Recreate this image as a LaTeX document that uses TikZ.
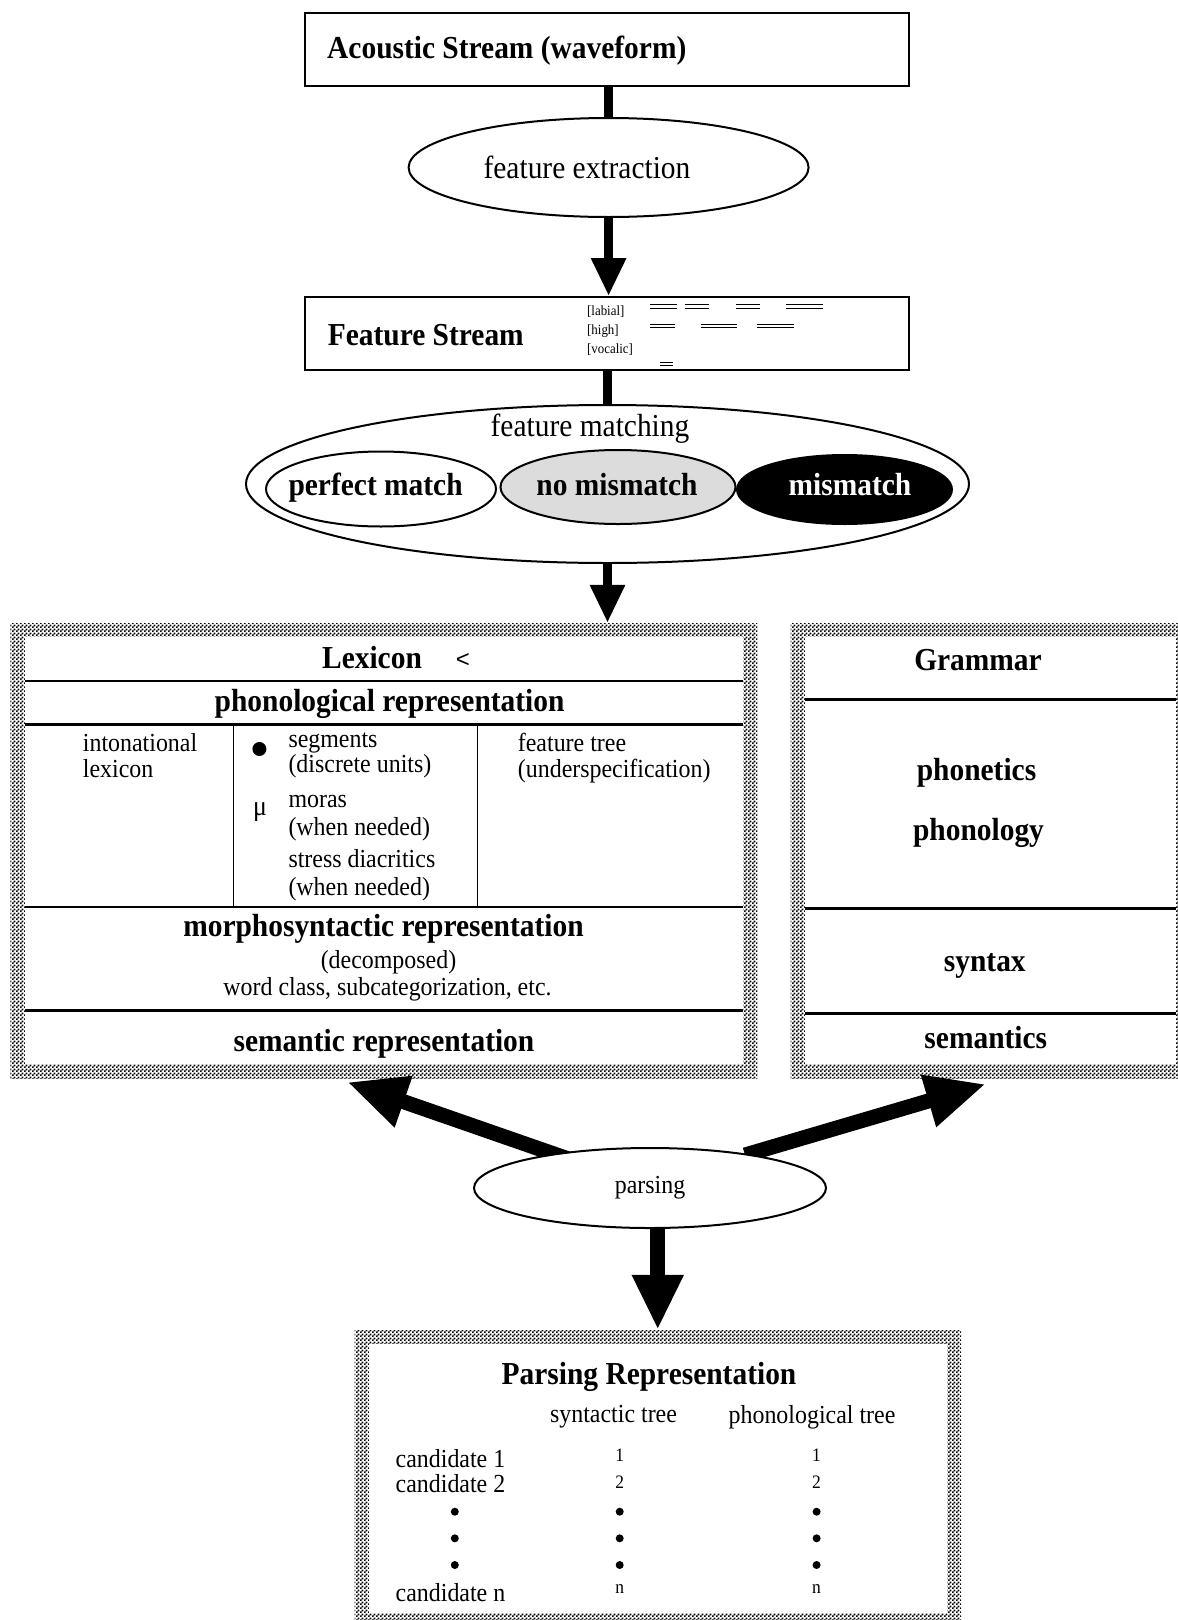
\documentclass[tikz,border=0pt]{standalone}
\usepackage{fontspec}
\setmainfont{Liberation Serif}[FakeStretch=0.92]
\newfontfamily\ltfont{Liberation Sans}
\usetikzlibrary{shapes.geometric,arrows.meta,patterns}
\pgfdeclarepatternformonly{fchk}{\pgfpointorigin}{\pgfqpoint{4pt}{4pt}}{\pgfqpoint{4pt}{4pt}}{%
 \pgfpathrectangle{\pgfpointorigin}{\pgfqpoint{2.1pt}{2.1pt}}%
 \pgfpathrectangle{\pgfqpoint{2pt}{2pt}}{\pgfqpoint{2.1pt}{2.1pt}}%
 \pgfusepath{fill}}
\newcommand\fsBig{\fontsize{32}{36}\selectfont}
\newcommand\fsMed{\fontsize{26}{28}\selectfont}
\newcommand\fsNum{\fontsize{19}{22}\selectfont}
\newcommand\fsTiny{\fontsize{14}{16}\selectfont}
\newcommand\dbl[3]{\draw[line width=1.1pt] (#1,#3-1.8) -- (#2,#3-1.8) (#1,#3+1.8) -- (#2,#3+1.8);}
\tikzset{
 boxr/.style={draw, line width=2pt, inner sep=0pt, fill=white},
 ell/.style={ellipse, draw, line width=2pt, inner sep=0pt, fill=white},
 bf/.style={inner sep=0pt, font=\fsBig\bfseries},
 rg/.style={inner sep=0pt, font=\fsBig},
 md/.style={inner sep=0pt, font=\fsMed},
 nm/.style={inner sep=0pt, font=\fsNum},
 tn/.style={inner sep=0pt, font=\fsTiny, anchor=west},
 hatchframe/.style={pattern=fchk, inner sep=0pt, draw=none},
 inner/.style={fill=white, inner sep=0pt, draw=none},
 rowline/.style={line width=2.5pt},
 colline/.style={line width=1.6pt},
 stemA/.style={line width=9pt},
 arrA/.style={line width=9pt, -{Triangle[length=38pt,width=33pt]}},
 arrB/.style={line width=15pt, -{Triangle[length=55pt,width=48pt]}},
 arrD/.style={line width=15pt, -{Triangle[length=60pt,width=50pt]}},
 dotb/.style={circle, fill=black, inner sep=0pt, minimum size=8pt},
}
\begin{document}
\begin{tikzpicture}[x=1pt,y=-1pt]
\useasboundingbox[fill=white] (0,0) rectangle (1178,1620);

% ---- top part
\node[boxr, minimum width=604, minimum height=73] (acoustic) at (607,49) {};
\node[bf, anchor=west] (acoustictxt) at (327,51) {Acoustic Stream (waveform)};

\node[ell, minimum width=400, minimum height=99] (fext) at (608.6,167.5) {};
\node[rg] (fexttxt) at (587,167) {feature extraction};

\node[boxr, minimum width=604, minimum height=73] (fstream) at (607,333.5) {};
\node[bf, anchor=west] (fstreamtxt) at (327.6,335) {Feature Stream};
\node[tn] (lab) at (587,312) {[labial]};
\node[tn] (high) at (587,331) {[high]};
\node[tn] (voc) at (587,350) {[vocalic]};
\dbl{650}{677}{306.5}
\dbl{685}{709}{306.5}
\dbl{736}{759.5}{306.5}
\dbl{786}{822.5}{306.5}
\dbl{650}{675}{326}
\dbl{700.6}{736.8}{326}
\dbl{757}{793.6}{326}
\dbl{660}{672.7}{364}

\node[ell, minimum width=723, minimum height=158] (fmatch) at (607.5,484) {};
\node[rg] (fmatchtxt) at (590,429) {feature matching};
\node[ell, minimum width=230, minimum height=75] (pm) at (381,489) {};
\node[bf] (pmtxt) at (375.6,488) {perfect match};
\node[ell, fill={rgb,255:red,220;green,220;blue,220}, minimum width=235, minimum height=74] (nmm) at (618,487) {};
\node[bf] (nmmtxt) at (617,485) {no mismatch};
\node[ell, fill=black, minimum width=215, minimum height=69] (mm) at (844.5,489.5) {};
\node[bf, text=white] (mmtxt) at (850,485) {mismatch};

\draw[stemA] (fext.north) -- (fext.north |- acoustic.south);
\draw[arrA] (fext.south) -- (fext.south |- fstream.north);
\draw[stemA] (fmatch.north |- fstream.south) -- (fmatch.north);

% ---- lexicon
\node[hatchframe, minimum width=747, minimum height=455] (lexframe) at (383.9,850.5) {};
\node[inner, minimum width=717.5, minimum height=427] (lex) at (383.75,850.5) {};
\draw[arrA] (fmatch.south) -- (fmatch.south |- lexframe.north);

\draw[rowline] (25,681) -- (742.5,681);
\draw[rowline] (25,724.5) -- (742.5,724.5);
\draw[rowline] (25,907) -- (742.5,907);
\draw[rowline] (25,1010.6) -- (742.5,1010.6);
\draw[colline] (233.5,724.5) -- (233.5,907);
\draw[colline] (477.4,724.5) -- (477.4,907);

\node[bf] (lextitle) at (372,658) {Lexicon};
\node[inner sep=0pt, font=\ltfont\fontsize{24}{26}\selectfont] (lt) at (463,660) {<};
\node[bf] (phonrep) at (389.6,704) {phonological representation};
\node[md, anchor=base west] (c1a) at (82.7,751) {intonational};
\node[md, anchor=base west] (c1b) at (82.7,777) {lexicon};
\node[dotb, minimum size=14pt] (segdot) at (259.4,749) {};
\node[md, anchor=base west] (c2a) at (288.3,747) {segments};
\node[md, anchor=base west] (c2b) at (288.3,772) {(discrete units)};
\node[inner sep=0pt, font=\fontsize{28}{30}\selectfont] (mu) at (260,812) {μ};
\node[md, anchor=base west] (c2c) at (288.3,807) {moras};
\node[md, anchor=base west] (c2d) at (288.3,835) {(when needed)};
\node[md, anchor=base west] (c2e) at (288.3,867) {stress diacritics};
\node[md, anchor=base west] (c2f) at (288.3,895) {(when needed)};
\node[md, anchor=base west] (c3a) at (517.7,751) {feature tree};
\node[md, anchor=base west] (c3b) at (517.7,777) {(underspecification)};
\node[bf] (morph) at (383.5,929) {morphosyntactic representation};
\node[md] (decomp) at (388.5,962) {(decomposed)};
\node[md] (wclass) at (387.5,989) {word class, subcategorization, etc.};
\node[bf] (semrep) at (384,1044) {semantic representation};

% ---- grammar
\node[hatchframe, minimum width=399.5, minimum height=455] (gramframe) at (990.25,850.5) {};
\node[inner, minimum width=371, minimum height=427] (gram) at (990.5,850.5) {};
\draw[rowline] (805,699.5) -- (1176,699.5);
\draw[rowline] (805,908.3) -- (1176,908.3);
\draw[rowline] (805,1013.5) -- (1176,1013.5);
\node[bf] (gtitle) at (978,660) {Grammar};
\node[bf] (phonetics) at (976.5,773) {phonetics};
\node[bf] (phonology) at (978.5,833) {phonology};
\node[bf] (syntax) at (984.8,966) {syntax};
\node[bf] (semantics) at (985.8,1038) {semantics};

% ---- parsing representation
\node[hatchframe, minimum width=606.5, minimum height=297] (prepframe) at (657.75,1478.5) {};
\node[inner, minimum width=578, minimum height=269.5] (prep) at (658,1478.25) {};
\node[bf] (preptitle) at (649,1377) {Parsing Representation};
\node[md] (synt) at (613.5,1417) {syntactic tree};
\node[md] (phont) at (812,1417) {phonological tree};
\node[md, anchor=west] (cand1) at (395.5,1459) {candidate 1};
\node[md, anchor=west] (cand2) at (395.5,1484) {candidate 2};
\node[md, anchor=west] (candn) at (395.5,1592.7) {candidate n};
\node[nm] (s1) at (619.7,1455) {1};
\node[nm] (s2) at (619.7,1481.7) {2};
\node[nm] (sn) at (619.7,1588.7) {n};
\node[nm] (p1) at (816.6,1455) {1};
\node[nm] (p2) at (816.6,1481.7) {2};
\node[nm] (pn) at (816.6,1588.7) {n};
\foreach \yy [count=\i] in {1511.7,1538.3,1565}{
  \node[dotb] (cd\i) at (454.8,\yy) {};
  \node[dotb] (sd\i) at (619.7,\yy) {};
  \node[dotb] (pd\i) at (816.6,\yy) {};
}

% ---- parsing ellipse and arrows
\coordinate (pc) at (650,1188);
\path (pc) ++(-70,-25) coordinate (ls);
\path (pc) ++(95,-33) coordinate (rs);
\coordinate (ltip) at (347,1082);
\coordinate (rtip) at (986,1084);
\draw[arrD] (ls) -- (ltip);
\draw[arrD] (rs) -- (rtip);
\draw[arrB] (prepframe.north |- pc) -- (prepframe.north);
\node[ell, minimum width=352, minimum height=80, font=\fsMed] (parse) at (pc) {parsing};
\end{tikzpicture}
\end{document}
